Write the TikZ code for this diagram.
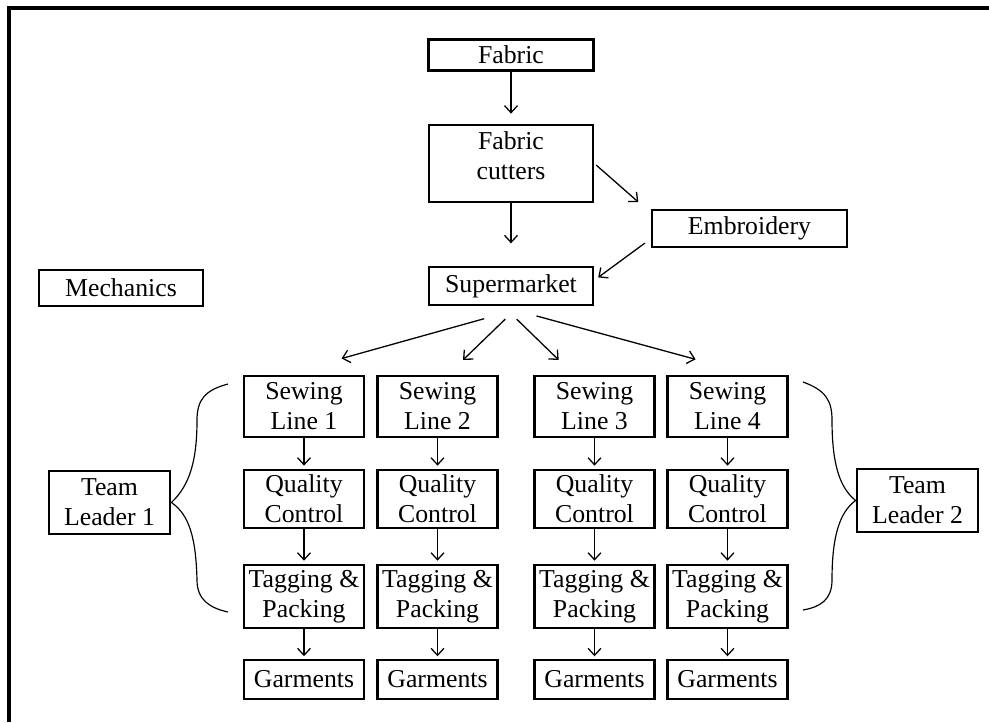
\documentclass[tikz,border=0pt]{standalone}
\usepackage{fontspec}
\setmainfont{Liberation Serif}
\usetikzlibrary{arrows.meta}
\begin{document}
\begin{tikzpicture}[x=0.03cm, y=-0.03cm,
	box/.style={draw, line width=2.4pt, inner sep=0pt, align=center, font=\fontsize{22}{25.5}\selectfont, minimum width=3.6cm},
	arr/.style={line width=1.1pt, ->, >={Straight Barb[length=6pt, width=11pt]}},
	brace/.style={line width=1pt}]
	        \useasboundingbox (0, 0) rectangle (989, 722);
	        \draw [line width=3.4pt] (989, 8) -- (9, 8) -- (9, 722);
	        \node [box, minimum width=4.95cm, minimum height=0.93cm] at (511, 55) (fabric) {Fabric};
	        \node [box, minimum width=4.92cm, minimum height=2.31cm, text depth=0.5cm] at (511, 163.5) (cutters) {Fabric\\cutters};
	        \node [box, minimum width=5.85cm, minimum height=1.11cm] at (749.5, 228.5) (embroidery) {Embroidery};
	        \node [box, minimum width=4.92cm, minimum height=1.14cm] at (511, 286) (market) {Supermarket};
	        \node [box, minimum width=4.92cm, minimum height=1.08cm] at (121, 288) (mechanics) {Mechanics};
	        \node [box, minimum height=1.83cm] at (304, 406.5) (sew1) {Sewing\\Line 1};
	        \node [box, minimum height=1.83cm] at (437.5, 406.5) (sew2) {Sewing\\Line 2};
	        \node [box, minimum height=1.83cm] at (594.5, 406.5) (sew3) {Sewing\\Line 3};
	        \node [box, minimum height=1.83cm] at (727.5, 406.5) (sew4) {Sewing\\Line 4};
	        \node [box, minimum height=1.74cm] at (304, 499) (qc1) {Quality\\Control};
	        \node [box, minimum height=1.74cm] at (437.5, 499) (qc2) {Quality\\Control};
	        \node [box, minimum height=1.74cm] at (594.5, 499) (qc3) {Quality\\Control};
	        \node [box, minimum height=1.74cm] at (727.5, 499) (qc4) {Quality\\Control};
	        \node [box, minimum height=1.89cm] at (304, 596.5) (tag1) {Tagging \&\\Packing};
	        \node [box, minimum height=1.89cm] at (437.5, 596.5) (tag2) {Tagging \&\\Packing};
	        \node [box, minimum height=1.89cm] at (594.5, 596.5) (tag3) {Tagging \&\\Packing};
	        \node [box, minimum height=1.89cm] at (727.5, 596.5) (tag4) {Tagging \&\\Packing};
	        \node [box, minimum height=1.17cm] at (304, 679.5) (gar1) {Garments};
	        \node [box, minimum height=1.17cm] at (437.5, 679.5) (gar2) {Garments};
	        \node [box, minimum height=1.17cm] at (594.5, 679.5) (gar3) {Garments};
	        \node [box, minimum height=1.17cm] at (727.5, 679.5) (gar4) {Garments};
	        \node [box, minimum width=3.63cm, minimum height=1.89cm] at (109.5, 502.5) (lead1) {Team\\Leader 1};
	        \node [box, minimum width=3.63cm, minimum height=1.89cm] at (917.5, 500.5) (lead2) {Team\\Leader 2};
	        \draw [arr, shorten >=8.5pt] (fabric) -- (cutters);
	        \draw [arr, shorten >=19pt] (cutters) -- (market);
	        \draw [arr, shorten <=2pt, shorten >=14pt] (cutters.east) -- (embroidery.171);
	        \draw [arr, shorten <=6pt, shorten >=4pt] (embroidery.186) -- (market.4);
	        \draw [arr, shorten <=39pt, shorten >=51pt] (market.-50) -- (sew1.122);
	        \draw [arr, shorten <=15.6pt, shorten >=18pt] (market.-70) -- (sew2.72);
	        \draw [arr, shorten <=15.6pt, shorten >=18pt] (market.-110) -- (sew3.123);
	        \draw [arr, shorten <=31pt, shorten >=49.5pt] (market.-115) -- (sew4.53);
	        \draw [arr, shorten >=2.5pt] (sew1) -- (qc1);
	        \draw [arr, shorten >=2.5pt] (sew2) -- (qc2);
	        \draw [arr, shorten >=2.5pt] (sew3) -- (qc3);
	        \draw [arr, shorten >=2.5pt] (sew4) -- (qc4);
	        \draw [arr, shorten >=2.5pt] (qc1) -- (tag1);
	        \draw [arr, shorten >=2.5pt] (qc2) -- (tag2);
	        \draw [arr, shorten >=2.5pt] (qc3) -- (tag3);
	        \draw [arr, shorten >=2.5pt] (qc4) -- (tag4);
	        \draw [arr, shorten >=2pt] (tag1) -- (gar1);
	        \draw [arr, shorten >=2pt] (tag2) -- (gar2);
	        \draw [arr, shorten >=2pt] (tag3) -- (gar3);
	        \draw [arr, shorten >=2pt] (tag4) -- (gar4);
	        \coordinate (brace1top) at (228, 384);
	        \coordinate (brace1bot) at (228, 612);
	        \coordinate (brace2top) at (803, 382);
	        \coordinate (brace2bot) at (803, 610);
	        \draw [brace] (brace1top) .. controls (205, 390) and (197, 400) .. (197, 420)
	            .. controls (197, 460) and (190, 485) .. (lead1.east)
	            .. controls (190, 515) and (196, 540) .. (197, 580)
	            .. controls (197, 600) and (210, 608) .. (brace1bot);
	        \draw [brace] (brace2top) .. controls (825, 390) and (832, 400) .. (832, 420)
	            .. controls (832, 465) and (840, 488) .. (lead2.west)
	            .. controls (840, 512) and (832, 535) .. (832, 580)
	            .. controls (832, 600) and (820, 607) .. (brace2bot);
        \end{tikzpicture}
\end{document}
